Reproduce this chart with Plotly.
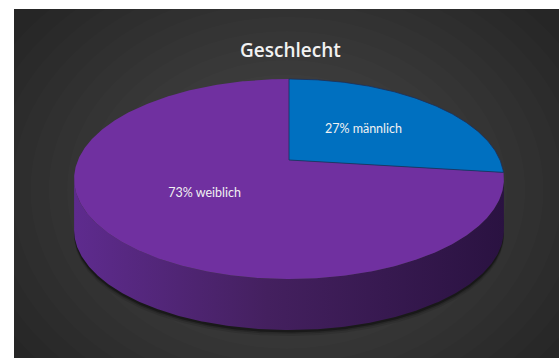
import numpy as np
import plotly.graph_objects as go

# ---- data ----
title = "Geschlecht"
categories = ["männlich", "weiblich"]
values = [27, 73]
top_colors = ["#0070C0", "#7030A0"]
side_scales = [
    [[0, "#00508a"], [1, "#002a48"]],
    [[0, "#5e2b8e"], [0.45, "#44205f"], [1, "#2a1241"]],
]
outline_colors = ["#1c2f5a", "rgba(0,0,0,0)"]
outline_widths = [0.8, 0]

# ---- layout geometry (pixel-like units) ----
W, H = 560, 358
L, T, R = 14, 9, 1
CX, CY = 289.0, 160.0     # apex of pie on top face
A, B, K = 211.0, 96.4, 0.19  # perspective ellipse parameters
DEPTH = 51.0


def proj(theta_deg, r=1.0):
    th = np.radians(theta_deg)
    u = r * np.sin(th)
    v = r * np.cos(th)
    d = 1 + K * v
    return CX + A * u / d, CY - B * v / d


def arc(a0, a1, n=None):
    if n is None:
        n = max(int(abs(a1 - a0) * 2), 4)
    t = np.linspace(a0, a1, n)
    return proj(t)


# silhouette angles (extreme x)
tt = np.linspace(0, 360, 36001)
xx, _ = proj(tt)
theta_R = tt[np.argmax(xx)]
theta_L = tt[np.argmin(xx)]

total = float(sum(values))
angles = []
acc = 0.0
for v in values:
    a0 = acc / total * 360
    acc += v
    a1 = acc / total * 360
    angles.append((a0, a1))

fig = go.Figure()

# soft shadow under the pie
for i, (off, op) in enumerate([(6, 0.10), (4, 0.18), (2.5, 0.35)]):
    sx, sy = arc(theta_R - 5, theta_L + 5)
    tx, ty = arc(theta_L + 5, theta_R - 5)
    fig.add_trace(go.Scatter(
        x=np.concatenate([sx, tx]),
        y=np.concatenate([sy + DEPTH + off, ty + DEPTH - 4]),
        fill="toself", mode="lines", line=dict(width=0),
        fillcolor=f"rgba(0,0,0,{op})", hoverinfo="skip", showlegend=False))

# sides
for (a0, a1), scale in zip(angles, side_scales):
    s0 = max(a0, theta_R)
    s1 = min(a1, theta_L)
    if s1 <= s0:
        continue
    x1, y1 = arc(s0, s1)
    xs = np.concatenate([x1, x1[::-1]])
    ys = np.concatenate([y1, (y1 + DEPTH)[::-1]])
    fig.add_trace(go.Scatter(
        x=xs, y=ys, fill="toself", mode="lines", line=dict(width=0),
        fillgradient=dict(type="horizontal", colorscale=scale),
        hoverinfo="skip", showlegend=False))

# top faces (draw purple first, blue on top so its outline shows)
order = list(range(len(values)))[::-1]
for i in order:
    a0, a1 = angles[i]
    ax, ay = arc(a0, a1)
    xs = np.concatenate([[CX], ax, [CX]])
    ys = np.concatenate([[CY], ay, [CY]])
    fig.add_trace(go.Scatter(
        x=xs, y=ys, fill="toself", mode="lines",
        line=dict(width=outline_widths[i], color=outline_colors[i]),
        fillcolor=top_colors[i], hoverinfo="skip", showlegend=False))

# labels
lx, ly, lt = [], [], []
for (a0, a1), c, v in zip(angles, categories, values):
    x, y = proj((a0 + a1) / 2, 0.5)
    lx.append(x)
    ly.append(y)
    lt.append(f"{v}% {c}")
fig.add_trace(go.Scatter(
    x=lx, y=ly, text=lt, mode="text",
    textfont=dict(family="Lato, Open Sans, sans-serif", size=12.5, color="#f2f2f2"),
    hoverinfo="skip", showlegend=False))

# background radial gradient
shapes = []
BGX, BGY = 287, 190
n_layers = 18
for i in range(n_layers):
    f = 1 - i / n_layers
    rx = 330 * f
    ry = 260 * f
    shapes.append(dict(type="circle", xref="x", yref="y", layer="below",
                       x0=BGX - rx, x1=BGX + rx, y0=BGY - ry, y1=BGY + ry,
                       fillcolor="rgba(255,255,255,0.0125)", line=dict(width=0)))

fig.update_layout(
    width=W, height=H,
    margin=dict(l=L, r=R, t=T, b=0, pad=0),
    paper_bgcolor="white",
    plot_bgcolor="#262626",
    shapes=shapes,
    xaxis=dict(range=[L, W - R], visible=False, fixedrange=True),
    yaxis=dict(range=[H, T], visible=False, fixedrange=True),
    annotations=[dict(
        text=title, x=290, y=50, xref="x", yref="y", showarrow=False,
        font=dict(family="Open Sans, Lato, sans-serif", size=19, color="#f2f2f2",
                  weight=600))],
)

fig.write_html("out.html", config={"displayModeBar": False})
